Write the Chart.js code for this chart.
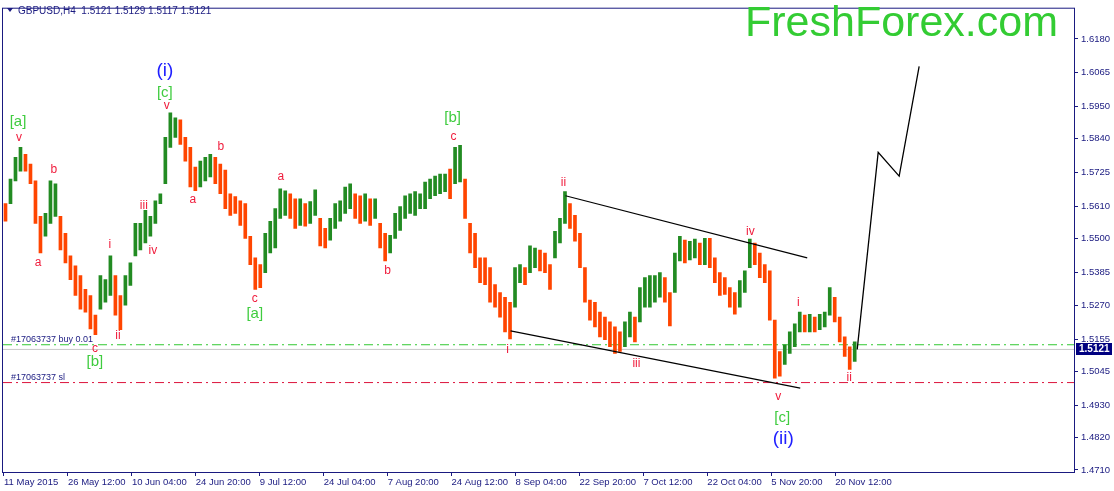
<!DOCTYPE html>
<html>
<head>
<meta charset="utf-8">
<script src="https://cdn.jsdelivr.net/npm/chart.js@4.4.1/dist/chart.umd.min.js"></script>
<style>
  html, body { margin: 0; padding: 0; background: #fff; }
  canvas { display: block; }
</style>
</head>
<body>
<canvas id="chart" width="1114" height="491"></canvas>
<script>
// GBPUSD H4, 11 May - 24 Nov 2015. One column = 5 H4 bars (x in bars from the left edge)
const barsPerColumn = 5;
const highs = [1.5618,1.5702,1.5776,1.5810,1.5786,1.5753,1.5696,1.5575,1.5585,1.5696,
  1.5686,1.5575,1.5517,1.5440,1.5406,1.5373,1.5326,1.5305,1.5238,1.5373,
  1.5359,1.5440,1.5373,1.5305,1.5373,1.5416,1.5551,1.5551,1.5595,1.5575,
  1.5628,1.5652,1.5844,1.5928,1.5911,1.5904,1.5844,1.5810,1.5743,1.5763,
  1.5776,1.5786,1.5776,1.5753,1.5733,1.5652,1.5642,1.5628,1.5618,1.5507,
  1.5433,1.5410,1.5517,1.5558,1.5601,1.5669,1.5662,1.5652,1.5635,1.5635,
  1.5618,1.5625,1.5665,1.5568,1.5534,1.5568,1.5618,1.5628,1.5675,1.5686,
  1.5652,1.5645,1.5652,1.5635,1.5635,1.5551,1.5517,1.5510,1.5585,1.5608,
  1.5645,1.5652,1.5659,1.5652,1.5692,1.5702,1.5712,1.5719,1.5719,1.5736,
  1.5810,1.5817,1.5702,1.5551,1.5517,1.5433,1.5433,1.5400,1.5342,1.5315,
  1.5299,1.5282,1.5400,1.5410,1.5400,1.5474,1.5467,1.5460,1.5450,1.5410,
  1.5524,1.5568,1.5659,1.5618,1.5578,1.5517,1.5400,1.5289,1.5282,1.5248,
  1.5231,1.5215,1.5198,1.5181,1.5215,1.5248,1.5231,1.5332,1.5366,1.5373,
  1.5373,1.5383,1.5366,1.5315,1.5450,1.5507,1.5494,1.5490,1.5497,1.5484,
  1.5500,1.5500,1.5433,1.5383,1.5366,1.5332,1.5315,1.5356,1.5389,1.5497,
  1.5484,1.5450,1.5410,1.5389,1.5221,1.5114,1.5137,1.5181,1.5208,1.5248,
  1.5238,1.5241,1.5231,1.5241,1.5248,1.5332,1.5299,1.5231,1.5164,1.5130,
  1.5147];
const lows = [1.5558,1.5618,1.5696,1.5729,1.5729,1.5686,1.5551,1.5450,1.5507,1.5551,
  1.5575,1.5460,1.5416,1.5359,1.5305,1.5258,1.5248,1.5191,1.5171,1.5258,
  1.5282,1.5305,1.5238,1.5188,1.5272,1.5339,1.5440,1.5460,1.5484,1.5507,
  1.5551,1.5618,1.5686,1.5810,1.5844,1.5820,1.5763,1.5675,1.5662,1.5675,
  1.5696,1.5709,1.5686,1.5652,1.5601,1.5578,1.5585,1.5544,1.5500,1.5410,
  1.5326,1.5332,1.5383,1.5450,1.5467,1.5568,1.5578,1.5568,1.5534,1.5544,
  1.5541,1.5551,1.5578,1.5474,1.5467,1.5494,1.5534,1.5558,1.5585,1.5601,
  1.5568,1.5551,1.5558,1.5544,1.5568,1.5467,1.5423,1.5450,1.5500,1.5527,
  1.5568,1.5585,1.5578,1.5601,1.5601,1.5635,1.5645,1.5652,1.5659,1.5635,
  1.5686,1.5692,1.5568,1.5450,1.5400,1.5349,1.5342,1.5282,1.5265,1.5231,
  1.5181,1.5157,1.5265,1.5349,1.5342,1.5383,1.5400,1.5389,1.5383,1.5326,
  1.5433,1.5484,1.5551,1.5534,1.5490,1.5400,1.5282,1.5221,1.5198,1.5164,
  1.5154,1.5130,1.5107,1.5114,1.5130,1.5164,1.5147,1.5215,1.5265,1.5265,
  1.5282,1.5299,1.5282,1.5201,1.5315,1.5423,1.5416,1.5426,1.5433,1.5410,
  1.5410,1.5400,1.5349,1.5305,1.5309,1.5265,1.5241,1.5265,1.5315,1.5400,
  1.5410,1.5366,1.5349,1.5221,1.5023,1.5030,1.5070,1.5107,1.5130,1.5181,
  1.5181,1.5181,1.5181,1.5188,1.5198,1.5238,1.5215,1.5147,1.5097,1.5053,
  1.5080];

const dateLabels = ['11 May 2015','26 May 12:00','10 Jun 04:00','24 Jun 20:00','9 Jul 12:00',
  '24 Jul 04:00','7 Aug 20:00','24 Aug 12:00','8 Sep 04:00','22 Sep 20:00',
  '7 Oct 12:00','22 Oct 04:00','5 Nov 20:00','20 Nov 12:00'];
const dateTickBars = [1,65,129,193,257,321,385,449,513,577,641,705,769,833];
const priceTicks = [1.6180,1.6065,1.5950,1.5840,1.5725,1.5610,1.5500,1.5385,1.5270,1.5155,1.5045,1.4930,1.4820,1.4710];

const lastPrice = 1.5121;
const buyPrice = 1.5137;
const slPrice = 1.5008;

// channel + forecast lines
const upperBars = [563, 805], upperPrices = [1.5645, 1.5433];
const lowerBars = [508, 798], lowerPrices = [1.5184, 1.4989];
const forecastBars = [855, 876, 897, 917], forecastPrices = [1.5121, 1.5793, 1.5712, 1.6086];

// wave counts
const waveText = ['[a]','v','b','a','i','ii','c','[b]','iii','iv',
  '(i)','[c]','v','a','b','c','[a]','a','b','[b]',
  'c','ii','i','iii','iv','v','[c]','(ii)','i','ii'];
const waveBar = [15,16,51,35,107,115,92,92,141,150,
  162,162,164,190,218,252,252,278,385,450,
  451,561,505,634,748,776,780,781,796,847];
const wavePrice = [1.5897,1.5844,1.5733,1.5416,1.5477,1.5167,1.5124,1.5077,1.5611,1.5457,
  1.6072,1.5995,1.5951,1.5632,1.5813,1.5295,1.5241,1.5709,1.5389,1.5911,
  1.5847,1.5689,1.5120,1.5073,1.5524,1.4959,1.4888,1.4818,1.5282,1.5023];

const NAVY = '#1a1a80';
const FONT = '"Liberation Sans", Arial, sans-serif';

const candles = highs.map((h, i) => ({ x: i * barsPerColumn + 2.5, y: [lows[i], h] }));
const candleColors = highs.map((h, i) => {
    if (i === 0) return '#ff4500';
    const mid = (h + lows[i]) / 2, prev = (highs[i - 1] + lows[i - 1]) / 2;
    return mid >= prev ? '#228b22' : '#ff4500';
});

const hline = (price) => [{ x: 0, y: price }, { x: 1072, y: price }];
const toPoints = (xs, ys) => xs.map((x, i) => ({ x: x, y: ys[i] }));

const overlay = {
    id: 'overlay',
    beforeDraw(chart) {
        const ctx = chart.ctx;
        ctx.save();
        ctx.fillStyle = '#fff';
        ctx.fillRect(0, 0, chart.width, chart.height);
        ctx.restore();
    },
    afterDatasetsDraw(chart) {
        const { ctx, chartArea: a, scales: { x, y } } = chart;
        ctx.save();

        // wave labels
        ctx.textAlign = 'center';
        ctx.textBaseline = 'middle';
        waveText.forEach((t, i) => {
            let color = '#f01c3c', size = 12;
            if (t[0] === '[') { color = '#3fcc3f'; size = 15; }
            if (t[0] === '(') { color = '#1f1fff'; size = 19; }
            ctx.font = size + 'px ' + FONT;
            ctx.fillStyle = color;
            ctx.fillText(t, x.getPixelForValue(waveBar[i]), y.getPixelForValue(wavePrice[i]));
        });

        // order labels
        ctx.font = '9px ' + FONT;
        ctx.fillStyle = NAVY;
        ctx.textAlign = 'left';
        ctx.textBaseline = 'bottom';
        ctx.fillText('#17063737 buy 0.01', a.left + 8, y.getPixelForValue(buyPrice) - 1);
        ctx.fillText('#17063737 sl', a.left + 8, y.getPixelForValue(slPrice) - 1);

        // bid price box on the axis
        const py = Math.round(y.getPixelForValue(lastPrice));
        ctx.fillStyle = '#000080';
        ctx.fillRect(a.right + 2, py - 6, 36, 12);
        ctx.fillStyle = '#fff';
        ctx.font = 'bold 10px ' + FONT;
        ctx.textBaseline = 'middle';
        ctx.fillText(lastPrice.toFixed(4), a.right + 5, py + 0.5);

        // frame
        ctx.strokeStyle = NAVY;
        ctx.lineWidth = 1;
        ctx.strokeRect(a.left - 0.5, a.top - 0.5, a.right - a.left + 1, a.bottom - a.top + 1);
        ctx.restore();
    },
    afterDraw(chart) {
        const ctx = chart.ctx;
        ctx.save();
        // symbol header
        ctx.fillStyle = NAVY;
        ctx.beginPath();
        ctx.moveTo(7, 8); ctx.lineTo(13, 8); ctx.lineTo(10, 12); ctx.closePath();
        ctx.fill();
        ctx.font = '10px ' + FONT;
        ctx.textAlign = 'left';
        ctx.textBaseline = 'middle';
        ctx.fillText('GBPUSD,H4  1.5121 1.5129 1.5117 1.5121', 18, 11);
        // logo
        ctx.font = '43px ' + FONT;
        ctx.fillStyle = '#33cc33';
        ctx.textBaseline = 'alphabetic';
        ctx.fillText('FreshForex.com', 745, 36);
        ctx.restore();
    }
};

new Chart(document.getElementById('chart'), {
    type: 'bar',
    data: {
        datasets: [
            {
                type: 'line', data: toPoints(upperBars, upperPrices), borderColor: '#000',
                borderWidth: 1.2, pointRadius: 0, order: 1
            },
            {
                type: 'line', data: toPoints(lowerBars, lowerPrices), borderColor: '#000',
                borderWidth: 1.2, pointRadius: 0, order: 1
            },
            {
                type: 'line', data: toPoints(forecastBars, forecastPrices), borderColor: '#000',
                borderWidth: 1.3, pointRadius: 0, order: 1
            },
            {
                type: 'bar', data: candles, backgroundColor: candleColors,
                barThickness: 3, grouped: false, order: 2
            },
            {
                type: 'line', data: hline(lastPrice), borderColor: '#c8c8c8',
                borderWidth: 1, pointRadius: 0, order: 3
            },
            {
                type: 'line', data: hline(buyPrice), borderColor: '#32c832',
                borderWidth: 1, borderDash: [9, 4, 2, 4], pointRadius: 0, order: 3
            },
            {
                type: 'line', data: hline(slPrice), borderColor: '#dc143c',
                borderWidth: 1, borderDash: [9, 4, 2, 4], pointRadius: 0, order: 3
            }
        ]
    },
    options: {
        responsive: false,
        animation: false,
        devicePixelRatio: 1,
        layout: { padding: { left: 3, top: 2, right: 0, bottom: 0 } },
        plugins: { legend: { display: false }, tooltip: { enabled: false } },
        scales: {
            x: {
                type: 'linear', min: 0, max: 1072, offset: false,
                grid: { drawOnChartArea: false, offset: false, tickLength: 4, color: NAVY },
                border: { color: NAVY },
                afterBuildTicks: (s) => { s.ticks = dateTickBars.map(v => ({ value: v })); },
                afterFit: (s) => { s.height = 19; },
                ticks: {
                    autoSkip: false, maxRotation: 0, align: 'start', padding: 1,
                    color: NAVY, font: { family: FONT, size: 9.5 },
                    callback: (v) => dateLabels[dateTickBars.indexOf(v)]
                }
            },
            y: {
                position: 'right', min: 1.4703, max: 1.6283,
                grid: { drawOnChartArea: false, tickLength: 4, color: NAVY },
                border: { color: NAVY },
                afterBuildTicks: (s) => { s.ticks = priceTicks.map(v => ({ value: v })); },
                afterFit: (s) => { s.width = 40; },
                ticks: {
                    padding: 3, color: NAVY, font: { family: FONT, size: 9.5 },
                    callback: (v) => v.toFixed(4)
                }
            }
        }
    },
    plugins: [overlay]
});
</script>
</body>
</html>
